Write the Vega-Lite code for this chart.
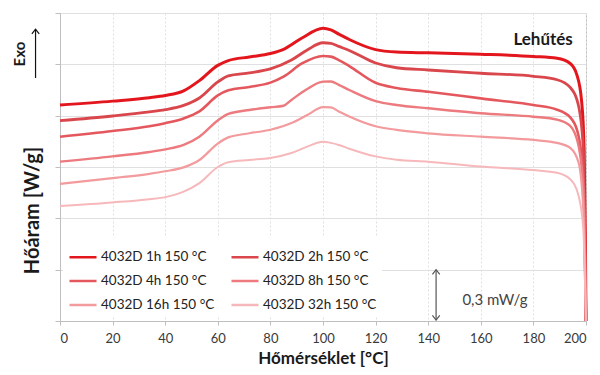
{
  "$schema": "https://vega.github.io/schema/vega-lite/v6.json",
  "width": 526,
  "height": 308,
  "autosize": {"type": "none"},
  "padding": {"left": 60, "top": 13, "right": 14, "bottom": 54},
  "background": "white",
  "config": {
    "font": "Lato",
    "view": {"stroke": "#bfbfbf", "strokeWidth": 1},
    "axis": {"gridColor": "#e0e0e0", "domainColor": "#bfbfbf", "tickColor": "#bfbfbf", "labelFont": "Lato", "titleFont": "Lato"}
  },
  "datasets": {
    "curves": [
      {"s":"4032D 1h 150 °C","x":0,"y":1.262},{"s":"4032D 1h 150 °C","x":20,"y":1.285},{"s":"4032D 1h 150 °C","x":34,"y":1.305},{"s":"4032D 1h 150 °C","x":40,"y":1.318},{"s":"4032D 1h 150 °C","x":47,"y":1.345},{"s":"4032D 1h 150 °C","x":53,"y":1.405},{"s":"4032D 1h 150 °C","x":60,"y":1.494},{"s":"4032D 1h 150 °C","x":64,"y":1.522},{"s":"4032D 1h 150 °C","x":72,"y":1.543},{"s":"4032D 1h 150 °C","x":80,"y":1.563},{"s":"4032D 1h 150 °C","x":85,"y":1.588},{"s":"4032D 1h 150 °C","x":92,"y":1.654},{"s":"4032D 1h 150 °C","x":100,"y":1.711},{"s":"4032D 1h 150 °C","x":103,"y":1.701},{"s":"4032D 1h 150 °C","x":106,"y":1.677},{"s":"4032D 1h 150 °C","x":110,"y":1.645},{"s":"4032D 1h 150 °C","x":120,"y":1.586},{"s":"4032D 1h 150 °C","x":128,"y":1.572},{"s":"4032D 1h 150 °C","x":140,"y":1.567},{"s":"4032D 1h 150 °C","x":160,"y":1.559},{"s":"4032D 1h 150 °C","x":180,"y":1.546},{"s":"4032D 1h 150 °C","x":189,"y":1.535},{"s":"4032D 1h 150 °C","x":194,"y":1.505},{"s":"4032D 1h 150 °C","x":196.5,"y":1.440},{"s":"4032D 1h 150 °C","x":198.3,"y":1.290},{"s":"4032D 1h 150 °C","x":199.3,"y":1.000},{"s":"4032D 1h 150 °C","x":199.8,"y":0.415},{"s":"4032D 1h 150 °C","x":200,"y":0},

      {"s":"4032D 2h 150 °C","x":0,"y":1.171},{"s":"4032D 2h 150 °C","x":20,"y":1.198},{"s":"4032D 2h 150 °C","x":34,"y":1.222},{"s":"4032D 2h 150 °C","x":40,"y":1.235},{"s":"4032D 2h 150 °C","x":47,"y":1.260},{"s":"4032D 2h 150 °C","x":53,"y":1.303},{"s":"4032D 2h 150 °C","x":60,"y":1.397},{"s":"4032D 2h 150 °C","x":64,"y":1.433},{"s":"4032D 2h 150 °C","x":72,"y":1.450},{"s":"4032D 2h 150 °C","x":80,"y":1.473},{"s":"4032D 2h 150 °C","x":88,"y":1.525},{"s":"4032D 2h 150 °C","x":94,"y":1.584},{"s":"4032D 2h 150 °C","x":100,"y":1.626},{"s":"4032D 2h 150 °C","x":103,"y":1.623},{"s":"4032D 2h 150 °C","x":106,"y":1.605},{"s":"4032D 2h 150 °C","x":110,"y":1.581},{"s":"4032D 2h 150 °C","x":120,"y":1.508},{"s":"4032D 2h 150 °C","x":128,"y":1.480},{"s":"4032D 2h 150 °C","x":140,"y":1.467},{"s":"4032D 2h 150 °C","x":160,"y":1.448},{"s":"4032D 2h 150 °C","x":180,"y":1.430},{"s":"4032D 2h 150 °C","x":189,"y":1.410},{"s":"4032D 2h 150 °C","x":194,"y":1.365},{"s":"4032D 2h 150 °C","x":197.2,"y":1.255},{"s":"4032D 2h 150 °C","x":199,"y":0.999},{"s":"4032D 2h 150 °C","x":199.6,"y":0.415},{"s":"4032D 2h 150 °C","x":200,"y":0},

      {"s":"4032D 4h 150 °C","x":0,"y":1.077},{"s":"4032D 4h 150 °C","x":20,"y":1.110},{"s":"4032D 4h 150 °C","x":34,"y":1.138},{"s":"4032D 4h 150 °C","x":40,"y":1.156},{"s":"4032D 4h 150 °C","x":47,"y":1.184},{"s":"4032D 4h 150 °C","x":53,"y":1.225},{"s":"4032D 4h 150 °C","x":60,"y":1.318},{"s":"4032D 4h 150 °C","x":64,"y":1.348},{"s":"4032D 4h 150 °C","x":72,"y":1.368},{"s":"4032D 4h 150 °C","x":80,"y":1.393},{"s":"4032D 4h 150 °C","x":85,"y":1.428},{"s":"4032D 4h 150 °C","x":92,"y":1.505},{"s":"4032D 4h 150 °C","x":100,"y":1.549},{"s":"4032D 4h 150 °C","x":103,"y":1.545},{"s":"4032D 4h 150 °C","x":106,"y":1.525},{"s":"4032D 4h 150 °C","x":110,"y":1.490},{"s":"4032D 4h 150 °C","x":120,"y":1.392},{"s":"4032D 4h 150 °C","x":128,"y":1.362},{"s":"4032D 4h 150 °C","x":140,"y":1.340},{"s":"4032D 4h 150 °C","x":160,"y":1.301},{"s":"4032D 4h 150 °C","x":180,"y":1.262},{"s":"4032D 4h 150 °C","x":189,"y":1.235},{"s":"4032D 4h 150 °C","x":194,"y":1.190},{"s":"4032D 4h 150 °C","x":197.2,"y":1.080},{"s":"4032D 4h 150 °C","x":199,"y":0.824},{"s":"4032D 4h 150 °C","x":199.7,"y":0.357},{"s":"4032D 4h 150 °C","x":200,"y":0},

      {"s":"4032D 8h 150 °C","x":0,"y":0.931},{"s":"4032D 8h 150 °C","x":20,"y":0.962},{"s":"4032D 8h 150 °C","x":34,"y":0.988},{"s":"4032D 8h 150 °C","x":40,"y":1.003},{"s":"4032D 8h 150 °C","x":47,"y":1.029},{"s":"4032D 8h 150 °C","x":53,"y":1.077},{"s":"4032D 8h 150 °C","x":60,"y":1.172},{"s":"4032D 8h 150 °C","x":64,"y":1.210},{"s":"4032D 8h 150 °C","x":72,"y":1.233},{"s":"4032D 8h 150 °C","x":80,"y":1.249},{"s":"4032D 8h 150 °C","x":85,"y":1.258},{"s":"4032D 8h 150 °C","x":88,"y":1.292},{"s":"4032D 8h 150 °C","x":94,"y":1.356},{"s":"4032D 8h 150 °C","x":100,"y":1.399},{"s":"4032D 8h 150 °C","x":103,"y":1.400},{"s":"4032D 8h 150 °C","x":106,"y":1.380},{"s":"4032D 8h 150 °C","x":110,"y":1.350},{"s":"4032D 8h 150 °C","x":120,"y":1.285},{"s":"4032D 8h 150 °C","x":128,"y":1.262},{"s":"4032D 8h 150 °C","x":140,"y":1.243},{"s":"4032D 8h 150 °C","x":160,"y":1.214},{"s":"4032D 8h 150 °C","x":180,"y":1.194},{"s":"4032D 8h 150 °C","x":189,"y":1.177},{"s":"4032D 8h 150 °C","x":194,"y":1.140},{"s":"4032D 8h 150 °C","x":197.2,"y":1.022},{"s":"4032D 8h 150 °C","x":199,"y":0.766},{"s":"4032D 8h 150 °C","x":199.7,"y":0.298},{"s":"4032D 8h 150 °C","x":200,"y":0},

      {"s":"4032D 16h 150 °C","x":0,"y":0.801},{"s":"4032D 16h 150 °C","x":20,"y":0.835},{"s":"4032D 16h 150 °C","x":34,"y":0.860},{"s":"4032D 16h 150 °C","x":40,"y":0.875},{"s":"4032D 16h 150 °C","x":47,"y":0.898},{"s":"4032D 16h 150 °C","x":53,"y":0.941},{"s":"4032D 16h 150 °C","x":60,"y":1.037},{"s":"4032D 16h 150 °C","x":64,"y":1.073},{"s":"4032D 16h 150 °C","x":72,"y":1.097},{"s":"4032D 16h 150 °C","x":80,"y":1.118},{"s":"4032D 16h 150 °C","x":88,"y":1.157},{"s":"4032D 16h 150 °C","x":94,"y":1.204},{"s":"4032D 16h 150 °C","x":100,"y":1.250},{"s":"4032D 16h 150 °C","x":103,"y":1.248},{"s":"4032D 16h 150 °C","x":106,"y":1.225},{"s":"4032D 16h 150 °C","x":110,"y":1.195},{"s":"4032D 16h 150 °C","x":120,"y":1.138},{"s":"4032D 16h 150 °C","x":128,"y":1.117},{"s":"4032D 16h 150 °C","x":140,"y":1.097},{"s":"4032D 16h 150 °C","x":160,"y":1.077},{"s":"4032D 16h 150 °C","x":180,"y":1.058},{"s":"4032D 16h 150 °C","x":189,"y":1.041},{"s":"4032D 16h 150 °C","x":194,"y":1.012},{"s":"4032D 16h 150 °C","x":197.2,"y":0.925},{"s":"4032D 16h 150 °C","x":199,"y":0.649},{"s":"4032D 16h 150 °C","x":199.7,"y":0.240},{"s":"4032D 16h 150 °C","x":200,"y":0},

      {"s":"4032D 32h 150 °C","x":0,"y":0.672},{"s":"4032D 32h 150 °C","x":20,"y":0.693},{"s":"4032D 32h 150 °C","x":34,"y":0.712},{"s":"4032D 32h 150 °C","x":40,"y":0.724},{"s":"4032D 32h 150 °C","x":47,"y":0.756},{"s":"4032D 32h 150 °C","x":53,"y":0.806},{"s":"4032D 32h 150 °C","x":60,"y":0.900},{"s":"4032D 32h 150 °C","x":64,"y":0.928},{"s":"4032D 32h 150 °C","x":72,"y":0.941},{"s":"4032D 32h 150 °C","x":80,"y":0.953},{"s":"4032D 32h 150 °C","x":88,"y":0.982},{"s":"4032D 32h 150 °C","x":94,"y":1.019},{"s":"4032D 32h 150 °C","x":100,"y":1.048},{"s":"4032D 32h 150 °C","x":103,"y":1.041},{"s":"4032D 32h 150 °C","x":106,"y":1.029},{"s":"4032D 32h 150 °C","x":110,"y":1.007},{"s":"4032D 32h 150 °C","x":120,"y":0.962},{"s":"4032D 32h 150 °C","x":128,"y":0.943},{"s":"4032D 32h 150 °C","x":140,"y":0.931},{"s":"4032D 32h 150 °C","x":160,"y":0.903},{"s":"4032D 32h 150 °C","x":180,"y":0.882},{"s":"4032D 32h 150 °C","x":189,"y":0.866},{"s":"4032D 32h 150 °C","x":194,"y":0.828},{"s":"4032D 32h 150 °C","x":197.2,"y":0.730},{"s":"4032D 32h 150 °C","x":199,"y":0.532},{"s":"4032D 32h 150 °C","x":199.7,"y":0.181},{"s":"4032D 32h 150 °C","x":200,"y":0}
    ],
    "title": [{"x":195,"y":1.645,"t":"Lehűtés"}],
    "note": [{"x":153,"y":0.12,"t":"0,3 mW/g"}],
    "exo": [{"x":-15.3,"y":1.56,"t":"Exo"}],
    "bars": [
      {"x":143,"y0":0.005,"y1":0.3,"g":"scale"},
      {"x":-9.3,"y0":1.42,"y1":1.705,"g":"exo"}
    ],
    "heads": [
      {"x":143,"y":0.3,"d":"up","g":"scale"},
      {"x":143,"y":0.005,"d":"down","g":"scale"},
      {"x":-9.3,"y":1.705,"d":"up","g":"exo"}
    ]
  },
  "layer": [
    {
      "data": {"name": "curves"},
      "mark": {"type": "line", "interpolate": "monotone"},
      "encoding": {
        "x": {"field": "x", "type": "quantitative", "scale": {"domain": [0, 200], "nice": false},
          "axis": {"values": [0,20,40,60,80,100,120,140,160,180,200], "title": "Hőmérséklet [°C]", "labelFontSize": 13, "labelColor": "#3a3a3a", "labelPadding": 7, "tickSize": 4, "gridDash": [2, 2], "titleFontSize": 17, "titleFontWeight": "bold", "titleColor": "#1a1a1a", "titlePadding": 5}},
        "y": {"field": "y", "type": "quantitative", "scale": {"domain": [0, 1.8], "nice": false},
          "axis": {"values": [0, 0.3, 0.6, 0.9, 1.2, 1.5, 1.8], "labels": false, "tickSize": 5, "title": "Hőáram [W/g]", "titleFontSize": 20, "titleFontWeight": "bold", "titleColor": "#1a1a1a", "titlePadding": 12, "titleY": 197}},
        "color": {"field": "s", "type": "nominal", "sort": null,
          "scale": {"domain": ["4032D 1h 150 °C","4032D 2h 150 °C","4032D 4h 150 °C","4032D 8h 150 °C","4032D 16h 150 °C","4032D 32h 150 °C"],
                    "range": ["#e3161d","#d9474c","#e4585d","#ec7a7e","#f39a9d","#f6b8ba"]},
          "legend": {"title": null, "orient": "none", "legendX": 3, "legendY": 224, "columns": 2, "direction": "horizontal", "columnPadding": 11, "rowPadding": 2, "symbolType": "stroke", "symbolSize": 730, "symbolStrokeWidth": 2.5, "labelFontSize": 13.5, "labelColor": "#222222", "labelOffset": 3, "fillColor": "white", "padding": 5, "gridAlign": "all"}},
        "strokeWidth": {"field": "s", "type": "nominal", "scale": {"domain": ["4032D 1h 150 °C","4032D 2h 150 °C","4032D 4h 150 °C","4032D 8h 150 °C","4032D 16h 150 °C","4032D 32h 150 °C"], "range": [3, 2, 2, 2, 2, 2]}, "legend": null},
        "order": {"field": "x", "type": "quantitative"}
      }
    },
    {
      "data": {"name": "bars"},
      "mark": {"type": "rule", "strokeWidth": 1.2},
      "encoding": {
        "x": {"field": "x", "type": "quantitative"},
        "y": {"field": "y0", "type": "quantitative"},
        "y2": {"field": "y1"},
        "color": {"field": "g", "type": "nominal", "scale": {"domain": ["scale", "exo"], "range": ["#555555", "#111111"]}, "legend": null}
      }
    },
    {
      "data": {"name": "heads"},
      "mark": {"type": "point", "filled": false, "strokeWidth": 1.2, "size": 110, "opacity": 1},
      "encoding": {
        "x": {"field": "x", "type": "quantitative"},
        "y": {"field": "y", "type": "quantitative"},
        "shape": {"field": "d", "type": "nominal", "scale": {"domain": ["up", "down"], "range": ["M-0.7,0.9L0,0L0.7,0.9", "M-0.7,-0.9L0,0L0.7,-0.9"]}, "legend": null},
        "stroke": {"field": "g", "type": "nominal", "scale": {"domain": ["scale", "exo"], "range": ["#555555", "#111111"]}, "legend": null}
      }
    },
    {
      "data": {"name": "title"},
      "mark": {"type": "text", "align": "right", "baseline": "middle", "fontSize": 17, "fontWeight": "bold", "color": "#1a1a1a"},
      "encoding": {
        "x": {"field": "x", "type": "quantitative"},
        "y": {"field": "y", "type": "quantitative"},
        "text": {"field": "t"}
      }
    },
    {
      "data": {"name": "note"},
      "mark": {"type": "text", "align": "left", "baseline": "middle", "fontSize": 15, "color": "#444444"},
      "encoding": {
        "x": {"field": "x", "type": "quantitative"},
        "y": {"field": "y", "type": "quantitative"},
        "text": {"field": "t"}
      }
    },
    {
      "data": {"name": "exo"},
      "mark": {"type": "text", "angle": 270, "align": "center", "baseline": "middle", "fontSize": 15, "fontWeight": "bold", "color": "#1a1a1a"},
      "encoding": {
        "x": {"field": "x", "type": "quantitative"},
        "y": {"field": "y", "type": "quantitative"},
        "text": {"field": "t"}
      }
    }
  ],
  "resolve": {"scale": {"color": "independent", "stroke": "independent", "shape": "independent"}}
}
